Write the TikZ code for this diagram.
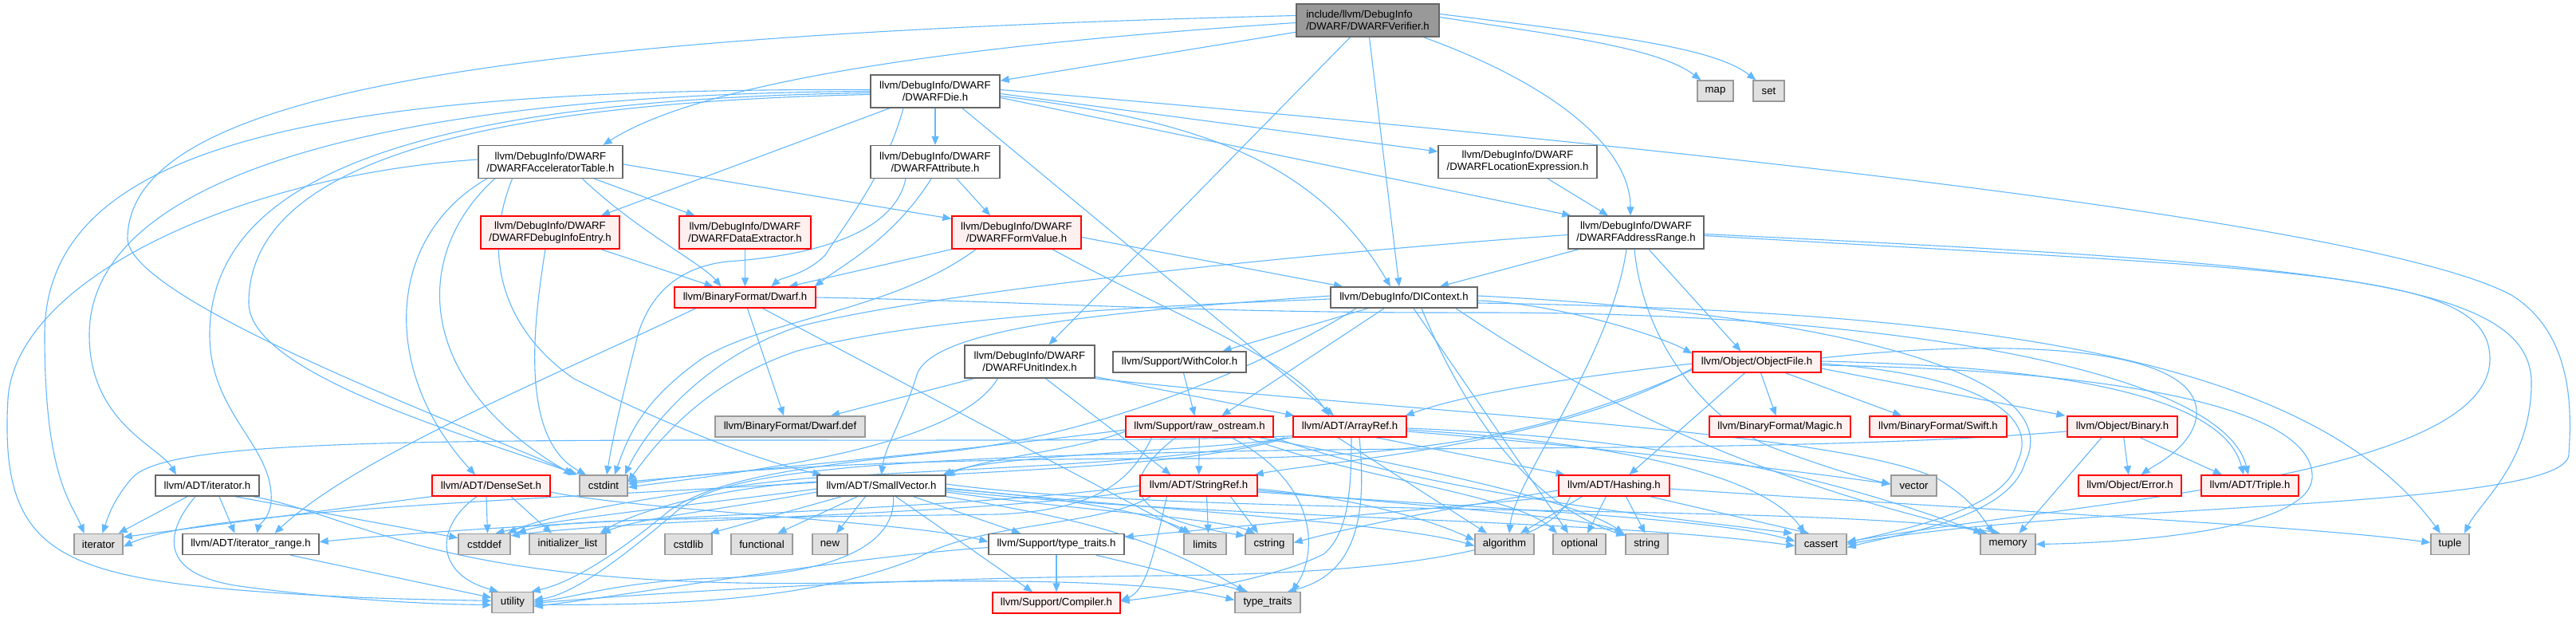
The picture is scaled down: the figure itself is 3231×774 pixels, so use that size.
\documentclass[tikz,border=0pt]{standalone}
\usepackage{fontspec}
\setmainfont{Liberation Sans}
\usetikzlibrary{arrows.meta,calc}
\pgfdeclarelayer{background}
\pgfsetlayers{background,main}
\definecolor{edgec}{HTML}{63B8FF}
\definecolor{redfill}{HTML}{FFF0F0}
\definecolor{grayfill}{HTML}{E0E0E0}
\definecolor{graydraw}{HTML}{999999}
\definecolor{nodedraw}{HTML}{666666}
\definecolor{rootfill}{HTML}{999999}
\tikzset{
 nd/.style={draw=nodedraw, fill=white, line width=1.4pt, inner sep=0pt, align=center,
   font=\fontsize{13.2}{15}\selectfont, minimum height=26pt},
 rd/.style={nd, draw=red, fill=redfill},
 gy/.style={nd, draw=graydraw, fill=grayfill},
 rt/.style={nd, draw=nodedraw, fill=rootfill, align=left},
 e/.style={draw=edgec, line width=1.1pt, -{Triangle[length=11pt,width=9pt]}},
}
\begin{document}
\begin{tikzpicture}[x=1pt,y=-1pt]
\useasboundingbox (0,0) rectangle (3231,774);
% nodes
\node[rt, minimum width=179pt, minimum height=41pt] (root) at (1715.5,25.5) {include/llvm/DebugInfo\\/DWARF/DWARFVerifier.h};
\node[nd, minimum width=162pt, minimum height=41pt] (die) at (1173,114.5) {llvm/DebugInfo/DWARF\\/DWARFDie.h};
\node[gy, minimum width=45pt] (map) at (2151.5,114) {map};
\node[gy, minimum width=39pt] (set) at (2218.5,114) {set};
\node[nd, minimum width=181pt, minimum height=41pt] (accel) at (690.5,203) {llvm/DebugInfo/DWARF\\/DWARFAcceleratorTable.h};
\node[nd, minimum width=162pt, minimum height=41pt] (attr) at (1173,203) {llvm/DebugInfo/DWARF\\/DWARFAttribute.h};
\node[nd, minimum width=199pt, minimum height=41pt] (locexpr) at (1903.5,203) {llvm/DebugInfo/DWARF\\/DWARFLocationExpression.h};
\node[rd, minimum width=174pt, minimum height=41pt] (dientry) at (690,291.5) {llvm/DebugInfo/DWARF\\/DWARFDebugInfoEntry.h};
\node[rd, minimum width=165pt, minimum height=41pt] (dataext) at (934.5,291.5) {llvm/DebugInfo/DWARF\\/DWARFDataExtractor.h};
\node[rd, minimum width=162pt, minimum height=41pt] (formval) at (1275,291.5) {llvm/DebugInfo/DWARF\\/DWARFFormValue.h};
\node[nd, minimum width=170pt, minimum height=41pt] (addrrange) at (2052,291.5) {llvm/DebugInfo/DWARF\\/DWARFAddressRange.h};
\node[rd, minimum width=177pt] (dwarfh) at (934.5,373) {llvm/BinaryFormat/Dwarf.h};
\node[nd, minimum width=184pt] (dicontext) at (1761,373) {llvm/DebugInfo/DIContext.h};
\node[nd, minimum width=163pt, minimum height=41pt] (unitindex) at (1291.5,453.5) {llvm/DebugInfo/DWARF\\/DWARFUnitIndex.h};
\node[nd, minimum width=167pt] (withcolor) at (1479.5,454) {llvm/Support/WithColor.h};
\node[rd, minimum width=161pt] (objectfile) at (2203.5,454) {llvm/Object/ObjectFile.h};
\node[gy, minimum width=188pt] (dwarfdef) at (991,535) {llvm/BinaryFormat/Dwarf.def};
\node[rd, minimum width=185pt] (rawostream) at (1504.5,535) {llvm/Support/raw\_ostream.h};
\node[rd, minimum width=142pt] (arrayref) at (1693,535) {llvm/ADT/ArrayRef.h};
\node[rd, minimum width=177pt] (magic) at (2232.5,535) {llvm/BinaryFormat/Magic.h};
\node[rd, minimum width=172pt] (swift) at (2431,535) {llvm/BinaryFormat/Swift.h};
\node[rd, minimum width=138pt] (binary) at (2662,535) {llvm/Object/Binary.h};
\node[nd, minimum width=130pt] (iteratorh) at (260,609) {llvm/ADT/iterator.h};
\node[rd, minimum width=148pt] (denseset) at (616,609) {llvm/ADT/DenseSet.h};
\node[gy, minimum width=60pt] (cstdint) at (757,609) {cstdint};
\node[nd, minimum width=161pt] (smallvector) at (1105.5,609) {llvm/ADT/SmallVector.h};
\node[rd, minimum width=147pt] (stringref) at (1503.5,609) {llvm/ADT/StringRef.h};
\node[rd, minimum width=139pt] (hashing) at (2024.5,609) {llvm/ADT/Hashing.h};
\node[gy, minimum width=57pt] (vector) at (2400.5,609) {vector};
\node[rd, minimum width=129pt] (objerror) at (2671.5,609) {llvm/Object/Error.h};
\node[rd, minimum width=122pt] (triple) at (2822,609) {llvm/ADT/Triple.h};
\node[gy, minimum width=61pt] (iterator) at (123.5,682.5) {iterator};
\node[nd, minimum width=171pt] (iterrange) at (314.5,682.5) {llvm/ADT/iterator\_range.h};
\node[gy, minimum width=65pt] (cstddef) at (607.5,682.5) {cstddef};
\node[gy, minimum width=96pt] (initlist) at (712,682.5) {initializer\_list};
\node[gy, minimum width=59pt] (cstdlib) at (863.5,682.5) {cstdlib};
\node[gy, minimum width=77pt] (functional) at (955.5,682.5) {functional};
\node[gy, minimum width=44pt] (new) at (1041,682.5) {new};
\node[nd, minimum width=170pt] (typetraitsh) at (1325,682.5) {llvm/Support/type\_traits.h};
\node[gy, minimum width=53pt] (limits) at (1511.5,682.5) {limits};
\node[gy, minimum width=60pt] (cstring) at (1592,682.5) {cstring};
\node[gy, minimum width=74pt] (algorithm) at (1887,682.5) {algorithm};
\node[gy, minimum width=66pt] (optional) at (1981,682.5) {optional};
\node[gy, minimum width=53pt] (string) at (2065.5,682.5) {string};
\node[gy, minimum width=64pt] (cassert) at (2284,682.5) {cassert};
\node[gy, minimum width=69pt] (memory) at (2518.5,682.5) {memory};
\node[gy, minimum width=48pt] (tuple) at (3073,682.5) {tuple};
\node[gy, minimum width=52pt] (utility) at (643,755.5) {utility};
\node[rd, minimum width=160pt] (compiler) at (1325,756) {llvm/Support/Compiler.h};
\node[gy, minimum width=82pt] (typetraits) at (1590,755.5) {type\_traits};

\begin{pgfonlayer}{background}
\fill[white] (0,0) rectangle (3231,774);
% root
\draw[e] (root) -- (die);
\draw[e] ([yshift=-3]root.west) .. controls (1300,50) and (900,90) .. ([xshift=66]accel.north);
\draw[e] ([xshift=-22]root.south) -- ([xshift=24]unitindex.north);
\draw[e] ([xshift=2]root.south) -- ([xshift=-6]dicontext.north);
\draw[e] ([xshift=70]root.south) .. controls (1960,110) and (2045,190) .. ([xshift=-7]addrrange.north);
\draw[e] ([yshift=4]root.east) .. controls (1960,45) and (2080,60) .. ([xshift=5]map.north west);
\draw[e] ([yshift=8]root.east) .. controls (2030,45) and (2150,60) .. ([xshift=4]set.north west);
\draw[e] ([yshift=6]root.west) .. controls (600,45) and (160,120) .. (160,300) .. controls (165,380) and (600,540) .. ([xshift=-4]cstdint.north west);
% die
\draw[e] ([yshift=2]die.west) .. controls (400,110) and (56,180) .. (56,420) .. controls (56,600) and (90,630) .. ([xshift=-18]iterator.north);
\draw[e] (die.west) .. controls (450,118) and (112,230) .. (112,420) .. controls (112,530) and (200,560) .. ([xshift=-39]iteratorh.north);
\draw[e] ([yshift=-2]die.west) .. controls (500,125) and (263,230) .. (263,420) .. controls (263,520) and (345,560) .. (340,630) .. controls (338,650) and (324,660) .. ([xshift=8]iterrange.north);
\draw[e] ([yshift=-4]die.west) .. controls (550,130) and (312,220) .. (312,380) .. controls (312,470) and (600,550) .. ([xshift=-2]cstdint.north west);
\draw[e] ([xshift=-57]die.south) -- ([xshift=64]dientry.north);
\draw[e] ([xshift=-40]die.south) .. controls (1110,220) and (1060,280) .. (1035,320) .. controls (1010,345) and (980,348) .. ([xshift=33]dwarfh.north);
\draw[e] (die) -- (attr);
\draw[e] ([xshift=34]die.south) -- ([xshift=-20]arrayref.north);
\draw[e] ([yshift=-6]die.east) .. controls (1500,150) and (1650,200) .. ([xshift=-17]dicontext.north);
\draw[e] ([yshift=-8]die.east) -- ([xshift=4]addrrange.north west);
\draw[e] ([yshift=-3]die.east) -- ([yshift=13]locexpr.west);
\draw[e] ([yshift=2]die.east) .. controls (2300,200) and (3000,290) .. (3150,370) .. controls (3230,420) and (3225,520) .. (3222,570) .. controls (3218,640) and (2600,630) .. (cassert.east);
% accel
\draw[e] ([yshift=3]accel.west) .. controls (300,220) and (20,350) .. (10,500) .. controls (0,680) and (60,720) .. (300,740) .. controls (450,752) and (560,752) .. ([yshift=2]utility.west);
\draw[e] ([xshift=-80]accel.south) .. controls (480,300) and (480,470) .. ([xshift=-20]denseset.north);
\draw[e] ([xshift=-70]accel.south) .. controls (515,320) and (520,480) .. ([xshift=-8]cstdint.north west);
\draw[e] ([xshift=-48]accel.south) .. controls (600,330) and (640,420) .. (720,475) .. controls (850,540) and (960,580) .. ([xshift=-75]smallvector.north);
\draw[e] ([xshift=40]accel.south) .. controls (800,290) and (880,330) .. ([xshift=-30]dwarfh.north);
\draw[e] ([xshift=55]accel.south) -- ([xshift=-63]dataext.north);
\draw[e] ([yshift=-3]accel.east) -- ([yshift=-4]formval.north west);
% attr
\draw[e] ([xshift=27]attr.south) -- ([xshift=-33]formval.north);
\draw[e] ([xshift=-5]attr.south) .. controls (1120,300) and (1060,330) .. ([xshift=-2]dwarfh.north east);
\draw[e] ([xshift=-37]attr.south) .. controls (1120,300) and (1000,322) .. (912,328) .. controls (850,335) and (815,370) .. (800,420) .. controls (785,480) and (770,540) .. ([xshift=4]cstdint.north);
% locexpr, dientry, dataext
\draw[e] ([xshift=38]locexpr.south) -- ([xshift=-35]addrrange.north);
\draw[e] ([xshift=64]dientry.south) -- ([xshift=-40]dwarfh.north);
\draw[e] ([xshift=-6]dientry.south) .. controls (670,400) and (650,550) .. ([xshift=-22]cstdint.north);
\draw[e] (dataext) -- (dwarfh);
% formval
\draw[e] (formval.south west) -- ([xshift=55]dwarfh.north);
\draw[e] ([xshift=-51]formval.south) .. controls (1120,390) and (960,400) .. (880,450) .. controls (810,500) and (790,540) .. ([xshift=14]cstdint.north);
\draw[e] ([yshift=-6]formval.east) -- ([xshift=-77]dicontext.north);
\draw[e] ([xshift=45]formval.south) .. controls (1480,400) and (1620,450) .. ([xshift=-26]arrayref.north);
% addrrange
\draw[e] ([xshift=-72]addrrange.south) -- ([xshift=45]dicontext.north);
\draw[e] ([yshift=-3]addrrange.west) .. controls (1600,320) and (1150,370) .. (1000,410) .. controls (880,450) and (810,540) .. ([xshift=-4]cstdint.north east);
\draw[e] ([xshift=-12]addrrange.south) .. controls (2020,450) and (1900,600) .. ([xshift=6]algorithm.north);
\draw[e] ([xshift=-2]addrrange.south) .. controls (2060,420) and (2130,520) .. (2220,560) .. controls (2300,590) and (2340,600) .. ([yshift=2]vector.west);
\draw[e] ([xshift=16]addrrange.south) -- ([xshift=-20]objectfile.north);
\draw[e] ([yshift=-4]addrrange.east) .. controls (2900,340) and (3123,340) .. (3123,450) .. controls (3123,600) and (2600,630) .. ([yshift=3]cassert.east);
\draw[e] ([yshift=-2]addrrange.east) .. controls (2900,330) and (3175,350) .. (3175,480) .. controls (3175,580) and (3110,630) .. ([xshift=18]tuple.north);
% dwarfh
\draw[e] ([xshift=3]dwarfh.south) -- ([xshift=-8]dwarfdef.north);
\draw[e] ([xshift=22]dwarfh.south) -- ([xshift=-22]limits.north);
\draw[e] (dwarfh.east) .. controls (1300,378) and (1500,393) .. (1860,392) .. controls (2400,392) and (2790,470) .. ([xshift=-2]triple.north);
\draw[e] ([xshift=-62]dwarfh.south) .. controls (700,470) and (450,570) .. ([xshift=30]iterrange.north);
% dicontext
\draw[e] ([xshift=-45]dicontext.south) -- ([xshift=54]withcolor.north);
\draw[e] ([xshift=-25]dicontext.south) -- ([xshift=28]rawostream.north);
\draw[e] ([yshift=2]dicontext.west) .. controls (1400,390) and (1170,410) .. (1150,470) .. controls (1135,520) and (1110,560) .. (smallvector.north);
\draw[e] ([yshift=-2]dicontext.west) .. controls (1400,385) and (1150,400) .. (1000,440) .. controls (880,480) and (820,560) .. ([yshift=5]cstdint.east);
\draw[e] ([xshift=-60]dicontext.south) .. controls (1600,450) and (1400,540) .. (1200,565) .. controls (1000,585) and (900,600) .. (840,640) .. controls (780,690) and (720,730) .. ([xshift=-3]utility.north east);
\draw[e] ([yshift=-4]dicontext.east) .. controls (1950,380) and (2080,420) .. ([yshift=-3]objectfile.north west);
\draw[e] ([xshift=12]dicontext.south) -- ([xshift=-14]optional.north);
\draw[e] ([xshift=22]dicontext.south) .. controls (1850,550) and (1940,640) .. ([yshift=-3]string.north west);
\draw[e] ([xshift=65]dicontext.south) .. controls (1950,470) and (2150,590) .. ([xshift=-26]memory.north);
\draw[e] ([yshift=2]dicontext.east) .. controls (2250,390) and (2600,460) .. (2540,580) .. controls (2520,650) and (2380,670) .. ([yshift=-4]cassert.east);
\draw[e] ([yshift=-7]dicontext.east) .. controls (2500,390) and (2900,450) .. ([xshift=-12]tuple.north);
% unitindex, withcolor
\draw[e] ([xshift=-70]unitindex.south) -- ([xshift=51]dwarfdef.north);
\draw[e] ([xshift=-40]unitindex.south) .. controls (1200,560) and (950,590) .. ([yshift=-2]cstdint.east);
\draw[e] ([xshift=20]unitindex.south) -- ([xshift=-35]stringref.north);
\draw[e] ([yshift=-19]unitindex.east) -- ([xshift=2]arrayref.north west);
\draw[e] (unitindex.south east) .. controls (1800,520) and (2300,540) .. (2430,600) .. controls (2470,625) and (2480,640) .. ([xshift=-18]memory.north);
\draw[e] ([xshift=5]withcolor.south) -- ([xshift=-6]rawostream.north);
% objectfile
\draw[e] ([xshift=5]objectfile.south) -- ([xshift=-5]magic.north);
\draw[e] ([xshift=36]objectfile.south) -- ([xshift=-46]swift.north);
\draw[e] ([yshift=-8]objectfile.east) -- ([xshift=-2]binary.north west);
\draw[e] ([xshift=-15]objectfile.south) -- ([xshift=19]hashing.north);
\draw[e] ([yshift=-2]objectfile.west) .. controls (2000,470) and (1850,490) .. ([xshift=-2]arrayref.north east);
\draw[e] ([yshift=-8]objectfile.west) .. controls (1950,560) and (1650,580) .. ([xshift=-4]stringref.north east);
\draw[e] ([yshift=-10]objectfile.west) .. controls (1950,540) and (1800,575) .. (1500,575) .. controls (1100,575) and (900,590) .. ([yshift=2]cstdint.east);
\draw[e] ([yshift=5]objectfile.east) .. controls (2500,425) and (2760,430) .. (2755,520) .. controls (2752,560) and (2700,585) .. ([xshift=14]objerror.north);
\draw[e] ([yshift=1]objectfile.east) .. controls (2600,460) and (2790,500) .. ([xshift=-8]triple.north);
\draw[e] ([yshift=-2]objectfile.east) .. controls (2480,470) and (2560,520) .. (2530,580) .. controls (2515,640) and (2380,665) .. ([yshift=2]cassert.east);
\draw[e] ([yshift=-4]objectfile.east) .. controls (2700,465) and (2905,520) .. (2900,600) .. controls (2895,660) and (2700,680) .. (memory.east);
% binary
\draw[e] (binary) -- (objerror);
\draw[e] ([xshift=22]binary.south) -- ([xshift=-35]triple.north);
\draw[e] ([xshift=-26]binary.south) -- ([xshift=14]memory.north);
\draw[e] ([yshift=-6]binary.west) .. controls (2300,565) and (1900,560) .. (1600,565) .. controls (1000,575) and (900,600) .. (850,640) .. controls (780,700) and (720,745) .. ([yshift=3]utility.east);
% arrayref
\draw[e] ([xshift=33]arrayref.south) -- ([xshift=-62]hashing.north);
\draw[e] (arrayref.south west) .. controls (1520,565) and (1250,570) .. ([xshift=-4]smallvector.north east);
\draw[e] ([xshift=2]arrayref.south) .. controls (1695,620) and (1690,670) .. (1660,695) .. controls (1600,725) and (1480,745) .. ([yshift=2]compiler.east);
\draw[e] ([xshift=-15]arrayref.south) -- ([xshift=-22]algorithm.north);
\draw[e] ([yshift=-4]arrayref.east) .. controls (1950,550) and (2200,580) .. ([xshift=-20]cassert.north);
\draw[e] ([xshift=-10]arrayref.south west) .. controls (1500,580) and (1250,585) .. (1010,600) .. controls (900,610) and (700,640) .. ([xshift=-4]cstddef.north east);
\draw[e] ([xshift=-6]arrayref.south west) .. controls (1500,585) and (1250,590) .. (1010,605) .. controls (880,615) and (790,645) .. ([xshift=-8]initlist.north east);
\draw[e] ([yshift=2]arrayref.south west) .. controls (1500,553) and (1200,552) .. (900,552) .. controls (400,552) and (200,560) .. (165,600) .. controls (140,630) and (135,650) .. ([xshift=5]iterator.north);
\draw[e] ([yshift=-2]arrayref.east) .. controls (2100,550) and (2300,600) .. ([xshift=-32]memory.north);
\draw[e] ([xshift=12]arrayref.south) .. controls (1715,650) and (1700,720) .. ([xshift=25]typetraits.north);
\draw[e] ([yshift=-6]arrayref.east) .. controls (2000,560) and (2250,590) .. ([yshift=2]vector.west);
% rawostream
\draw[e] (rawostream) -- (stringref);
\draw[e] ([yshift=-6]rawostream.west) .. controls (1350,565) and (1230,575) .. ([yshift=-2]smallvector.north east);
\draw[e] ([xshift=-30]rawostream.south) .. controls (1395,610) and (1420,650) .. ([yshift=-3]cstring.north west);
\draw[e] ([xshift=40]rawostream.south) .. controls (1660,610) and (1650,700) .. ([xshift=30]typetraits.north);
\draw[e] ([xshift=60]rawostream.south) .. controls (1700,600) and (1900,620) .. ([xshift=-28]optional.north);
\draw[e] ([xshift=75]rawostream.south) .. controls (1800,590) and (1980,630) .. ([xshift=-2]string.north west);
\draw[e] (rawostream.south east) .. controls (1800,620) and (2100,650) .. ([xshift=-3]cassert.north west);
\draw[e] ([yshift=-4]rawostream.west) .. controls (1250,560) and (950,590) .. ([yshift=5]cstdint.east);
\draw[e] ([xshift=-60]rawostream.south) .. controls (1420,600) and (1380,640) .. (1250,645) .. controls (900,650) and (700,650) .. ([xshift=8]cstddef.north east);
% stringref
\draw[e] ([xshift=-40]stringref.south) .. controls (1450,680) and (1440,740) .. ([yshift=3]compiler.east);
\draw[e] ([xshift=10]stringref.south) -- ([xshift=4]limits.north);
\draw[e] ([xshift=40]stringref.south) -- ([xshift=-14]cstring.north);
\draw[e] ([yshift=-4]stringref.east) .. controls (1700,625) and (1790,650) .. ([yshift=5]algorithm.west);
\draw[e] ([yshift=-8]stringref.east) .. controls (1900,640) and (2150,650) .. ([yshift=4]cassert.west);
\draw[e] ([yshift=-6]stringref.east) .. controls (1850,640) and (2000,650) .. ([yshift=-2]string.north west);
\draw[e] (stringref.west) .. controls (1200,640) and (700,650) .. ([yshift=3]iterrange.east);
\draw[e] ([yshift=-6]stringref.west) .. controls (1250,645) and (800,650) .. ([yshift=-3]cstddef.north east);
\draw[e] ([xshift=-60]stringref.south) .. controls (1380,660) and (1230,655) .. (1150,700) .. controls (1000,760) and (800,758) .. ([yshift=-3]utility.east);
% hashing
\draw[e] ([xshift=-40]hashing.south) -- ([xshift=20]algorithm.north);
\draw[e] ([xshift=-10]hashing.south) -- ([xshift=10]optional.north);
\draw[e] ([xshift=15]hashing.south) -- ([xshift=-2]string.north);
\draw[e] ([xshift=45]hashing.south) -- ([xshift=-15]cassert.north);
\draw[e] ([yshift=-4]hashing.east) .. controls (2500,640) and (2900,660) .. ([yshift=2]tuple.west);
\draw[e] ([yshift=-6]hashing.west) .. controls (1800,640) and (1700,660) .. ([yshift=2]cstring.east);
\draw[e] (hashing.south west) -- ([yshift=9]typetraitsh.east);
\draw[e] ([xshift=-55]hashing.south) .. controls (1940,700) and (1700,720) .. (1450,722) .. controls (1100,725) and (800,745) .. ([yshift=-1]utility.east);
% smallvector
\draw[e] ([xshift=18]smallvector.south) -- ([xshift=-30]compiler.north);
\draw[e] ([xshift=40]smallvector.south) -- ([xshift=-45]typetraitsh.north);
\draw[e] ([yshift=-3]smallvector.east) .. controls (1450,640) and (1750,655) .. ([yshift=-2]algorithm.west);
\draw[e] ([yshift=-6]smallvector.east) .. controls (1500,650) and (2000,650) .. ([yshift=-2]cassert.west);
\draw[e] ([yshift=-4]smallvector.west) .. controls (900,630) and (700,650) .. ([xshift=14]cstddef.north);
\draw[e] ([xshift=-50]smallvector.south) -- ([xshift=-3]cstdlib.north east);
\draw[e] ([yshift=-8]smallvector.east) .. controls (1350,640) and (1530,650) .. ([xshift=-18]cstring.north);
\draw[e] ([xshift=-30]smallvector.south) -- ([xshift=20]functional.north);
\draw[e] ([yshift=-8]smallvector.west) .. controls (900,640) and (800,650) .. ([xshift=-6]initlist.north east);
\draw[e] ([yshift=4]smallvector.west) .. controls (700,625) and (250,640) .. ([yshift=-3]iterator.east);
\draw[e] ([yshift=-4]smallvector.east) .. controls (1350,625) and (1450,645) .. ([xshift=-18]limits.north);
\draw[e] ([yshift=2]smallvector.east) .. controls (1500,650) and (2300,630) .. ([xshift=-10]memory.north);
\draw[e] ([xshift=-20]smallvector.south) -- ([xshift=8]new.north);
\draw[e] (smallvector.south east) .. controls (1350,650) and (1440,670) .. ([xshift=-28]typetraits.north);
\draw[e] ([xshift=15]smallvector.south) .. controls (1125,700) and (1000,722) .. (900,725) .. controls (780,728) and (720,750) .. ([yshift=1]utility.east);
% denseset
\draw[e] (denseset.south west) -- ([yshift=9]iterator.east);
\draw[e] ([xshift=-18]denseset.south) .. controls (545,660) and (545,720) .. ([xshift=-18]utility.north);
\draw[e] ([xshift=-6]denseset.south) -- ([xshift=4]cstddef.north);
\draw[e] ([xshift=25]denseset.south) -- ([xshift=-20]initlist.north);
\draw[e] ([yshift=-8]denseset.east) .. controls (800,640) and (1150,655) .. ([yshift=3]typetraitsh.west);
% iteratorh
\draw[e] ([xshift=-25]iteratorh.south) -- ([xshift=25]iterator.north);
\draw[e] ([xshift=15]iteratorh.south) -- ([xshift=-20]iterrange.north);
\draw[e] ([xshift=-15]iteratorh.south) .. controls (205,670) and (200,720) .. (300,735) .. controls (450,755) and (560,758) .. ([yshift=-3]utility.west);
\draw[e] ([xshift=35]iteratorh.south) -- ([yshift=8]cstddef.west);
\draw[e] ([xshift=58]iteratorh.south) .. controls (460,650) and (560,745) .. (1100,730) .. controls (1350,725) and (1480,735) .. ([yshift=3]typetraits.west);
% iterrange, typetraitsh
\draw[e] ([xshift=50]iterrange.south) -- ([yshift=6]utility.west);
\draw[e] (typetraitsh) -- (compiler);
\draw[e] ([xshift=50]typetraitsh.south) -- ([xshift=-25]typetraits.north);
\draw[e] ([yshift=-4]typetraitsh.west) .. controls (1050,700) and (800,745) .. ([yshift=-5]utility.east);
\end{pgfonlayer}
\end{tikzpicture}
\end{document}
